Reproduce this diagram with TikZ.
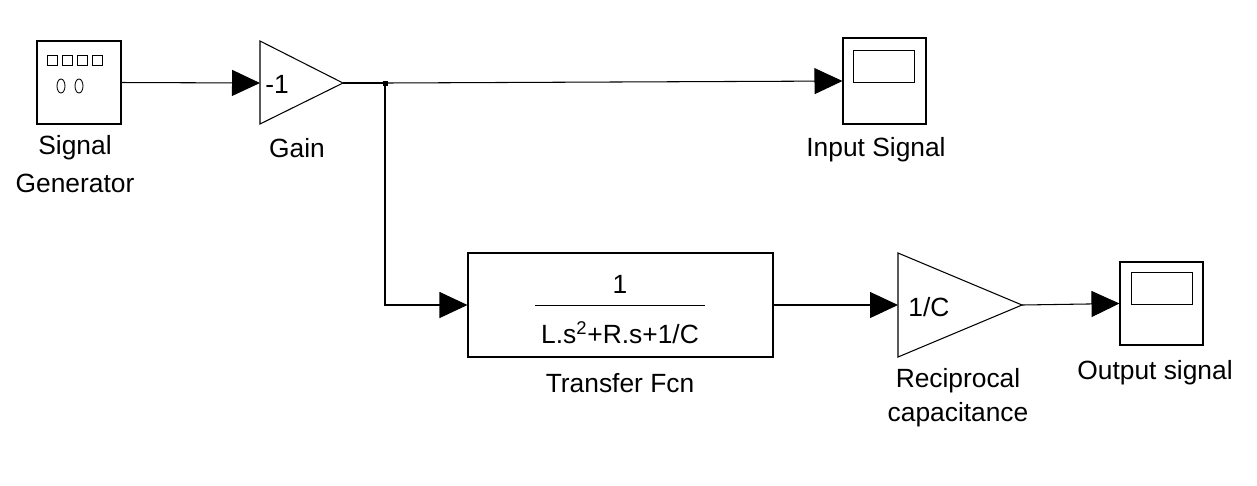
\documentclass[tikz,border=0pt]{standalone}
\usepackage{fontspec}
\setmainfont{Liberation Sans}
\usetikzlibrary{arrows.meta}
\begin{document}
\begin{tikzpicture}[x=0.02cm,y=-0.02cm,
  blk/.style={draw,line width=0.6pt},
  lbl/.style={font=\fontsize{15}{15}\selectfont,inner sep=0pt},
  sig/.style={line width=0.6pt,-{Triangle[length=0.56cm,width=0.52cm]}},
  wire/.style={line width=0.6pt}]
\useasboundingbox (0,0) rectangle (1257,485);
% Signal generator
\node[blk,minimum width=84*0.02cm,minimum height=83*0.02cm,inner sep=0pt] (sg) at (79,82.5) {};
\foreach \x in {52,67,82,97} \draw[line width=0.5pt] (\x-5,55) rectangle (\x+5,65);
\draw[line width=0.5pt] (61,86) ellipse (4 and 7) (79,86) ellipse (4 and 7);
\node[lbl] at (75,148) {Signal};
\node[lbl] at (75,183) {Generator};
% Gain
\coordinate (gainin) at (260,83);
\coordinate (gainout) at (343,83);
\draw[blk] (260,41) -- (343,83) -- (260,124) -- cycle;
\node[lbl,anchor=west] at (265,84) {-1};
\node[lbl] at (297,148) {Gain};
% Input scope
\node[blk,minimum width=83*0.02cm,minimum height=86*0.02cm,inner sep=0pt] (isc) at (884.5,81) {};
\draw[line width=0.5pt] (853,50) rectangle (914,82);
\node[lbl] at (876,150) {Input Signal};
% Transfer function
\node[blk,minimum width=305*0.02cm,minimum height=104*0.02cm,inner sep=0pt] (tf) at (620.5,305) {};
\node[lbl] at (620,284) {1};
\draw[line width=0.5pt] (535,305) -- (705,305);
\node[lbl] at (620,333) {L.s\textsuperscript{2}+R.s+1/C};
\node[lbl] at (620,383) {Transfer Fcn};
% Reciprocal capacitance
\coordinate (rcin) at (898,305);
\coordinate (rcout) at (1022,305);
\draw[blk] (898,253) -- (1022,305) -- (898,357) -- cycle;
\node[lbl,anchor=west] at (908,307) {1/C};
\node[lbl] at (958,381) {Reciprocal};
\node[lbl] at (958,415) {capacitance};
% Output scope
\node[blk,minimum width=83*0.02cm,minimum height=83*0.02cm,inner sep=0pt] (osc) at (1161.5,303.5) {};
\draw[line width=0.5pt] (1131,272) rectangle (1192,304);
\node[lbl] at (1155,373) {Output signal};
% wires
\coordinate (j) at (385,83);
\coordinate (jd) at (385,305);
\draw[sig] (sg.east) -- (gainin);
\draw[wire] (gainout) -- (j);
\fill (j) ++(-2.5,-2.5) rectangle ++(5,5);
\draw[sig] (j) -- (isc.west);
\draw[sig] (j) -- (jd) -- (tf.west);
\draw[sig] (tf.east) -- (rcin);
\draw[sig] (rcout) -- (osc.west);
\end{tikzpicture}
\end{document}
